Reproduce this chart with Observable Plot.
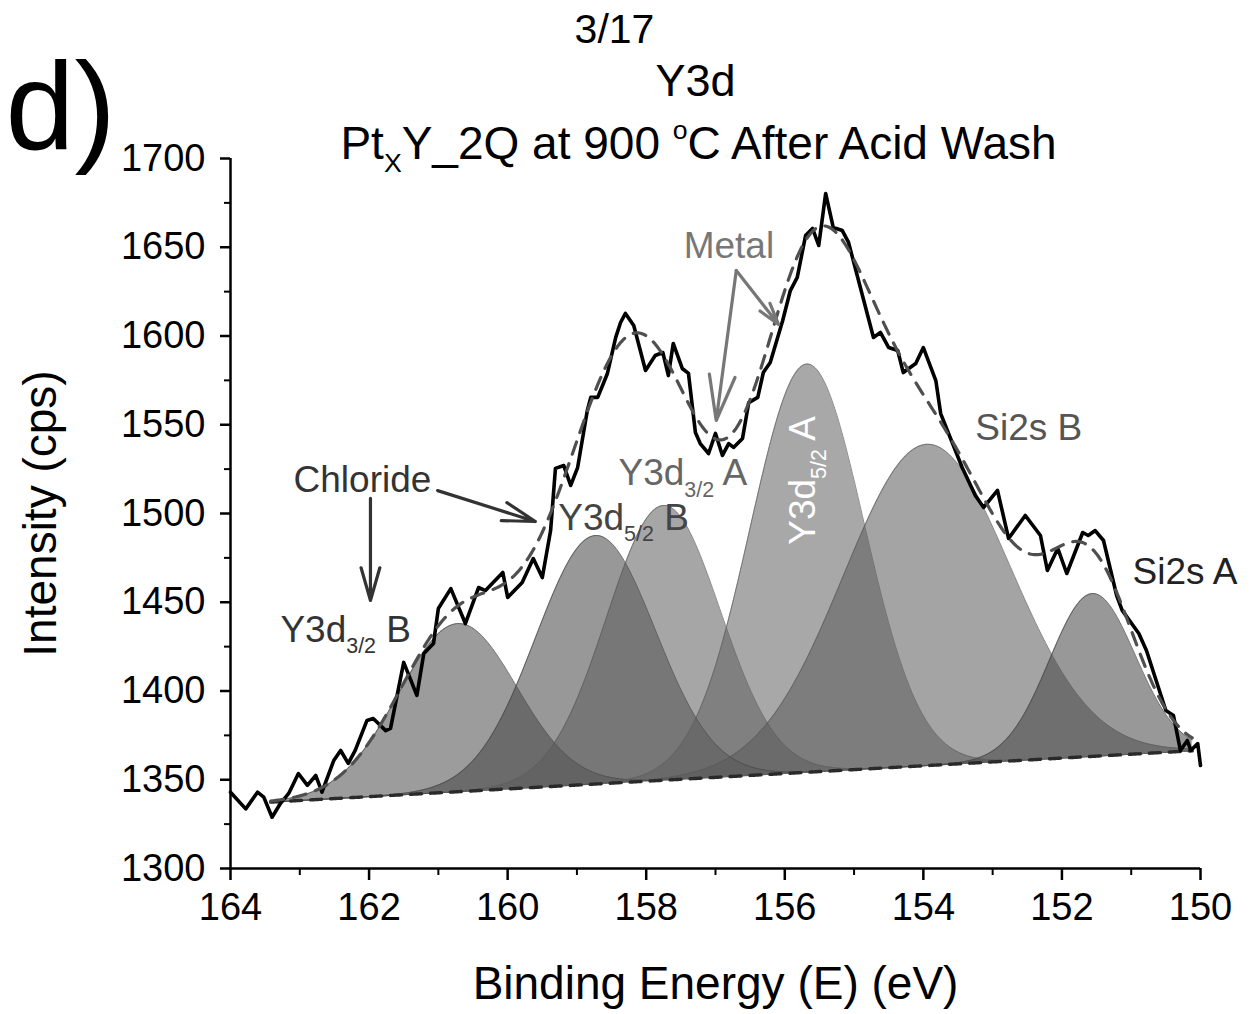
<!DOCTYPE html>
<html><head><meta charset="utf-8">
<script src="https://cdn.jsdelivr.net/npm/d3@7"></script>
<script src="https://cdn.jsdelivr.net/npm/@observablehq/plot@0.6"></script>
<style>
html,body{margin:0;padding:0;background:#fff;}
#chart{width:1260px;height:1014px;position:relative;}
</style></head><body><div id="chart"></div>
<script>
// ---- measured spectrum (binding energy eV, intensity cps) ----
const rawEnergy = [164.00,163.78,163.61,163.52,163.40,163.28,163.16,163.02,162.89,162.77,162.68,162.51,162.41,162.30,162.20,162.03,161.94,161.76,161.69,161.50,161.31,161.21,161.07,161.00,160.82,160.61,160.42,160.32,160.07,160.00,159.79,159.63,159.50,159.38,159.31,159.19,159.09,158.99,158.85,158.80,158.70,158.56,158.44,158.37,158.30,158.18,158.01,157.87,157.76,157.68,157.61,157.48,157.39,157.29,157.22,157.10,157.00,156.90,156.81,156.74,156.61,156.52,156.39,156.31,156.21,156.03,155.92,155.82,155.70,155.60,155.51,155.41,155.30,155.17,155.08,154.72,154.62,154.50,154.37,154.29,154.11,154.00,153.82,153.75,153.44,153.25,153.13,152.93,152.77,152.53,152.31,152.21,152.06,151.93,151.70,151.62,151.52,151.40,151.21,151.13,150.89,150.78,150.50,150.39,150.29,150.19,150.14,150.04,150.00];
const rawIntensity = [1343.0,1333.6,1343.0,1340.2,1328.9,1336.6,1342.3,1353.5,1346.8,1352.4,1343.0,1360.8,1366.5,1359.2,1366.5,1383.4,1384.5,1377.7,1378.9,1416.1,1397.5,1421.1,1426.8,1446.5,1457.7,1438.0,1458.3,1456.6,1466.8,1452.7,1461.1,1474.6,1463.9,1490.4,1525.4,1527.0,1515.8,1525.9,1558.0,1565.4,1565.4,1578.9,1599.2,1607.6,1612.7,1605.9,1580.6,1589.0,1590.7,1577.7,1595.8,1581.7,1578.9,1545.6,1539.4,1533.8,1545.1,1532.7,1539.4,1537.2,1542.3,1562.5,1565.4,1579.4,1585.1,1608.7,1625.6,1633.0,1656.6,1660.6,1651.0,1680.3,1661.1,1659.4,1652.7,1599.2,1602.0,1593.5,1591.8,1579.4,1584.5,1593.5,1574.9,1556.3,1525.9,1510.1,1503.4,1513.0,1485.9,1498.9,1487.6,1467.9,1480.3,1466.2,1489.3,1487.6,1490.4,1484.8,1453.8,1445.4,1432.4,1422.8,1389.0,1386.2,1366.5,1372.1,1366.5,1370.4,1358.0];

// ---- fitted components (Gaussian peaks on a linear background) ----
const peakNames  = ["Y3d3/2 B","Y3d5/2 B","Y3d3/2 A","Y3d5/2 A","Si2s B","Si2s A"];
const peakCentre = [160.72, 158.73, 157.75, 155.68, 153.95, 151.56];
const peakHeight = [94.7, 140.0, 154.8, 230.0, 181.0, 91.7];
const peakFWHM   = [2.00, 2.03, 1.93, 1.93, 2.83, 1.46];
const peakFill   = ["#4a4a4a", "#444444", "#5c5c5c", "#606060", "#5a5a5a", "#444444"];
const backgroundEnergy    = [163.42, 150.12];
const backgroundIntensity = [1337.4, 1366.3];

// ---- axis ticks ----
const xTicks = [164, 162, 160, 158, 156, 154, 152, 150];
const xMinorTicks = [163, 161, 159, 157, 155, 153, 151];
const yTicks = [1300, 1350, 1400, 1450, 1500, 1550, 1600, 1650, 1700];
const yMinorTicks = [1325, 1375, 1425, 1475, 1525, 1575, 1625, 1675];

// ---- annotations ----
const labelText      = ["Chloride", "Metal", "Y3d_{3/2} B", "Y3d_{5/2} B", "Y3d_{3/2} A", "Si2s B", "Si2s A"];
const labelEnergy    = [163.09, 157.46, 163.28, 159.27, 158.40, 153.25, 150.98];
const labelIntensity = [1518.6, 1650.4, 1434.1, 1497.2, 1522.5, 1547.9, 1466.8];
const labelColor     = ["#333333", "#777777", "#333333", "#444444", "#666666", "#555555", "#222222"];
const innerLabel = {text: "Y3d_{5/2} A", energy: 155.73, intensity: 1518.6};
const arrowE1 = [161.98, 161.01, 156.70, 156.70];
const arrowI1 = [1508.5, 1512.9, 1636.9, 1636.9];
const arrowE2 = [161.98, 159.60, 156.99, 156.09];
const arrowI2 = [1451.0, 1495.5, 1552.4, 1606.5];
const arrowColor = ["#333333", "#333333", "#777777", "#777777"];

// ---- build the fit curves from the peak parameters ----
const bgSlope = (backgroundIntensity[1] - backgroundIntensity[0]) / (backgroundEnergy[1] - backgroundEnergy[0]);
const bg = e => backgroundIntensity[0] + bgSlope * (e - backgroundEnergy[0]);
const gauss = (i, e) => {
  const s = peakFWHM[i] / 2.3548;
  return peakHeight[i] * Math.exp(-((e - peakCentre[i]) ** 2) / (2 * s * s));
};
const nGrid = Math.round((backgroundEnergy[0] - backgroundEnergy[1]) / 0.02);
const grid = d3.range(nGrid + 1).map(k => backgroundEnergy[0] - k * 0.02);
const components = peakNames.map((name, i) => grid.map(e => ({e, lo: bg(e), hi: bg(e) + gauss(i, e)})));
const envelope = grid.map(e => ({e, v: bg(e) + d3.sum(peakNames, (_, i) => gauss(i, e))}));
const background = grid.map(e => ({e, v: bg(e)}));
const raw = rawEnergy.map((e, i) => ({e, v: rawIntensity[i]}));

const FONT = "'Liberation Sans', Arial, Helvetica, sans-serif";

const marks = [];
components.forEach((c, i) => {
  marks.push(Plot.areaY(c, {x: "e", y1: "lo", y2: "hi", fill: peakFill[i], fillOpacity: 0.55}));
});
components.forEach((c, i) => {
  marks.push(Plot.line(c, {x: "e", y: "hi", stroke: peakFill[i], strokeOpacity: 0.7, strokeWidth: 1}));
});
marks.push(Plot.line(background, {x: "e", y: "v", stroke: "#2a2a2a", strokeWidth: 3.4, strokeDasharray: "11,9"}));
marks.push(Plot.line(raw, {x: "e", y: "v", stroke: "#000", strokeWidth: 3.6}));
marks.push(Plot.line(envelope, {x: "e", y: "v", stroke: "#4f4f4f", strokeWidth: 3.2, strokeDasharray: "13,10"}));

labelText.forEach((t, i) => {
  marks.push(Plot.text([t], {x: () => labelEnergy[i], y: () => labelIntensity[i], text: d => d,
    textAnchor: "start", lineAnchor: "middle", fontSize: 37, fill: labelColor[i], fontFamily: FONT}));
});
marks.push(Plot.text([innerLabel.text], {x: () => innerLabel.energy, y: () => innerLabel.intensity, text: d => d,
  rotate: -90, textAnchor: "middle", lineAnchor: "middle", fontSize: 37, fill: "#fff", fontFamily: FONT}));

arrowE1.forEach((_, i) => {
  marks.push(Plot.arrow([0], {x1: () => arrowE1[i], y1: () => arrowI1[i], x2: () => arrowE2[i], y2: () => arrowI2[i],
    stroke: arrowColor[i], strokeWidth: 3.2, headLength: 22, headAngle: 32}));
});

// axes
marks.push(Plot.axisY({ticks: yTicks, tickSize: 10, tickPadding: 15, tickFormat: d3.format("d"), fontSize: 38, strokeWidth: 2.5, label: null, fontFamily: FONT}));
marks.push(Plot.axisY({ticks: yMinorTicks, tickSize: 6, tickFormat: () => "", strokeWidth: 2, label: null}));
marks.push(Plot.axisX({ticks: xTicks, tickSize: 12, tickPadding: 13, tickFormat: d3.format("d"), fontSize: 38, strokeWidth: 2.5, label: null, fontFamily: FONT}));
marks.push(Plot.axisX({ticks: xMinorTicks, tickSize: 7, tickFormat: () => "", strokeWidth: 2, label: null}));
marks.push(Plot.ruleX([164], {strokeWidth: 2.5}));
marks.push(Plot.ruleY([1300], {strokeWidth: 2.5}));

// axis titles and headings
marks.push(Plot.text(["Intensity (cps)"], {text: d => d, frameAnchor: "left", dx: -189, rotate: -90, textAnchor: "middle", lineAnchor: "middle", fontSize: 46, fontFamily: FONT}));
marks.push(Plot.text(["Binding Energy (E) (eV)"], {text: d => d, frameAnchor: "bottom", dy: 116, textAnchor: "middle", lineAnchor: "middle", fontSize: 46, fontFamily: FONT}));
marks.push(Plot.text(["3/17"], {text: d => d, frameAnchor: "top", dx: -101, dy: -116, textAnchor: "middle", lineAnchor: "bottom", fontSize: 41, fontFamily: FONT}));
marks.push(Plot.text(["Y3d"], {text: d => d, frameAnchor: "top", dx: -20, dy: -63, textAnchor: "middle", lineAnchor: "bottom", fontSize: 45, fontFamily: FONT}));
marks.push(Plot.text(["Pt_{X}Y_2Q at 900 ^{o}C After Acid Wash"], {text: d => d, frameAnchor: "top", dx: -17, dy: 0, textAnchor: "middle", lineAnchor: "bottom", fontSize: 46, fontFamily: FONT}));
marks.push(Plot.text(["d)"], {text: d => d, frameAnchor: "top-left", dx: -225, dy: -10, textAnchor: "start", lineAnchor: "bottom", fontSize: 124, fontFamily: FONT}));

const chart = Plot.plot({
  width: 1260,
  height: 1014,
  marginLeft: 230,
  marginRight: 60,
  marginTop: 158,
  marginBottom: 146,
  x: {domain: [164, 150]},
  y: {domain: [1300, 1700]},
  style: {fontFamily: FONT, background: "#fff", overflow: "visible", color: "#000"},
  marks
});
document.getElementById("chart").appendChild(chart);

// turn _{..} and ^{..} into sub/superscript tspans
function richify(svg) {
  svg.querySelectorAll("text").forEach(t => {
    const s = t.textContent;
    if (!/[_^]\{/.test(s)) return;
    const holder = t.closest("[font-size]");
    const fs = holder ? parseFloat(holder.getAttribute("font-size")) : 16;
    const parts = s.split(/([_^]\{[^}]*\})/).filter(p => p !== "");
    while (t.firstChild) t.removeChild(t.firstChild);
    let shift = 0;
    const ns = "http://www.w3.org/2000/svg";
    parts.forEach(p => {
      const ts = document.createElementNS(ns, "tspan");
      let target = 0, txt = p;
      if (p.startsWith("_{")) { target = 0.3 * fs; txt = p.slice(2, -1); ts.setAttribute("font-size", 0.58 * fs); }
      else if (p.startsWith("^{")) { target = -0.42 * fs; txt = p.slice(2, -1); ts.setAttribute("font-size", 0.58 * fs); }
      const d = target - shift;
      if (d !== 0) ts.setAttribute("dy", d);
      shift = target;
      ts.textContent = txt;
      t.appendChild(ts);
    });
  });
}
richify(chart);
</script></body></html>
